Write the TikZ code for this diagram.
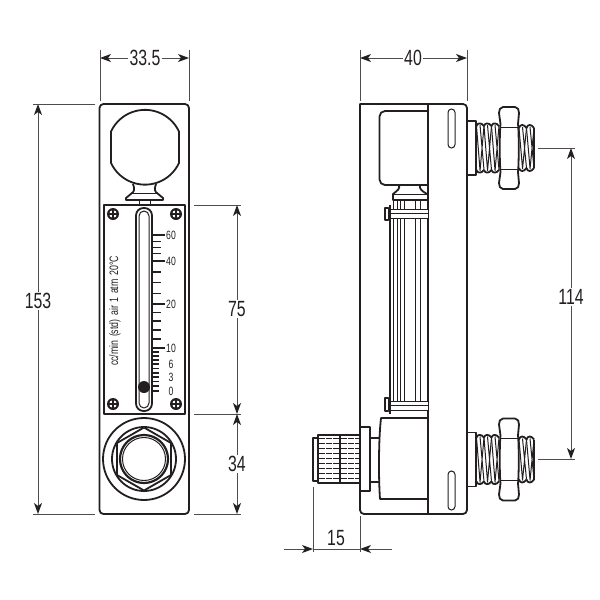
\documentclass[tikz,border=0pt]{standalone}
\usepackage{fontspec}
\usepackage{tikz}
\usetikzlibrary{arrows.meta}
\setmainfont{Liberation Sans}[FakeStretch=0.72]
\definecolor{ink}{HTML}{231F20}
\tikzset{
  fig/.style={draw=ink, line width=1.8pt, line join=round},
  thin/.style={draw=ink, line width=1pt},
  tick/.style={draw=ink, line width=1.3pt},
  ext/.style={draw=ink!80, line width=0.9pt},
  dim/.style={draw=ink!80, line width=1pt, -{Stealth[length=11pt,width=8pt,inset=3pt,color=ink]}},
  lbl/.style={text=ink, font=\fontsize{22}{24}\selectfont, inner sep=1pt},
  scl/.style={text=ink, font=\fontsize{12}{14}\selectfont, inner sep=0pt},
  screw/.pic={
    \fill[ink] (0,0) circle (6);
    \fill[white] (0,0) circle (3.8);
    \draw[ink, line width=1.5pt] (-4,0)--(4,0) (0,-4)--(0,4);
  },
  fitting/.pic={
    % flange
    \draw[fig, fill=white] (468,-27)--(476,-27)--(476,27)--(468,27);
    % thread, both sides of the nut
    \foreach \x in {476.5,484,491.5}{
      \draw[fig] (\x,-22) .. controls (\x+1,-25.5) and (\x+5,-25.5) .. (\x+7.5,-22);
      \draw[fig] (\x,22) .. controls (\x+1,25.5) and (\x+5,25.5) .. (\x+7.5,22);
      \draw[thin] (\x,-22)--(\x+3.5,22) (\x+3.5,-23)--(\x+7.5,22) (\x+7.5,-22)--(\x+3.5,23);
    }
    \foreach \x in {519,526.5}{
      \draw[fig] (\x,-20) .. controls (\x+1,-24) and (\x+5,-24) .. (\x+7.5,-20);
      \draw[fig] (\x,20) .. controls (\x+1,24) and (\x+5,24) .. (\x+7.5,20);
      \draw[thin] (\x,-20)--(\x+3.5,20) (\x+3.5,-21)--(\x+7.5,20) (\x+7.5,-20)--(\x+3.5,21);
    }
    \draw[fig] (534,-20)--(534,20);
    % nut
    \draw[fig, fill=white] (503,-41)--(515,-41) .. controls (518,-41) and (519,-38) .. (519,-35)
      --(518,-24) .. controls (519,-15) and (519,15) .. (518,24)
      --(519,35) .. controls (519,38) and (518,41) .. (515,41)--(503,41)
      .. controls (500,41) and (499,38) .. (499,35)--(500.5,24)
      .. controls (499.5,15) and (499.5,-15) .. (500.5,-24)--(499,-35)
      .. controls (499,-38) and (500,-41) .. (503,-41)--cycle;
    \draw[thin] (500.5,-21)--(518,-21) (500.5,21)--(518,21);
  }
}

\begin{document}
\begin{tikzpicture}[x=1pt,y=-1pt]
\useasboundingbox (0,0) rectangle (600,600);

% front view
\draw[fig, rounded corners=4] (99.5,104) rectangle (189,514);
\draw[fig] (111,131.5) arc[start angle=-155, end angle=-25, radius=37.5]--(179,163)
  arc[start angle=25, end angle=155, radius=37.5]--cycle;
\draw[fig] (133,184) .. controls (135,189) and (134,192) .. (132,193)--(126,198)--(126,200)--(163,200)--(163,198)--(157,193)
  .. controls (155,192) and (154,189) .. (156,184);
\draw[thin] (132,193)--(157,193);
\draw[thin] (139,200)--(139,205) (150,200)--(150,205);
\draw[fig] (104,205) rectangle (185,414);
\draw[fig, rounded corners=7.5] (136,208) rectangle (152,411);
\draw[thin, rounded corners=5] (139,211) rectangle (149,408);
\fill[ink] (144,387) circle (6);
\pic at (113,214) {screw};
\pic at (176,214) {screw};
\pic at (113,404) {screw};
\pic at (176,404) {screw};
% scale
\foreach \y in {235,261,304,348}
  \draw[tick] (152,\y)--(165,\y);
\foreach \y in {241.5,247.5,253.5,272,282.5,293.5,312.5,321,330,339}
  \draw[tick] (152,\y)--(161,\y);
\foreach \y in {352,356,360,364,368.5,373,377,381.5,386,391}
  \draw[tick] (152,\y)--(159,\y);
\foreach \y/\v in {235/60,261/40,304/20,348/10,364/6,377/3,391/0}
  \node[scl] (s\v) at (171,\y) {\v};
\node[scl, rotate=90, font=\fontsize{12.2}{13}\selectfont] (unit) at (115,311) {\spaceskip=3.6pt\relax cc/min (std) air 1 atm 20°C};
% fitting seen end on
\draw[fig] (144,459) circle (41);
\draw[fig] (144,459) circle (32);
\draw[fig] (144,427.5)--(171,443)--(171,475)--(144,490.5)--(117,475)--(117,443)--cycle;
\draw[fig, line width=2.2pt] (144,459) circle (24);
\draw[thin] (144,459) circle (21.5);

% side view
\draw[fig] (360,104) [rounded corners=4] --(467,104)--(467,514)--(360,514) [sharp corners] --cycle;
\draw[fig] (428,104)--(428,514);
\draw[thin, rounded corners=3.5] (448,109) rectangle (455,148);
\draw[thin, rounded corners=3.5] (448,471) rectangle (455,510);
\draw[fig] (428,111) [rounded corners=5.5] --(379.5,111)--(379.5,185)[sharp corners]--(428,185);
\draw[fig] (399,185) .. controls (400,189) and (398,190) .. (393,194)--(393,200)--(428,200);
\draw[fig] (420,185) .. controls (419,189) and (422,191) .. (427,194);
\draw[thin] (393,194)--(428,194);
% glass tube
\foreach \x in {393,397,400,404,415,420,427}
  \draw[thin, line width=0.9pt] (\x,200)--(\x,401);
\draw[fill=white, draw=none] (391,209) rectangle (428,218);
\draw[fill=white, draw=none] (391,401) rectangle (428,410);
\draw[thin] (391,209)--(428,209) (391,213.5)--(428,213.5) (391,218)--(428,218);
\draw[thin] (391,401)--(428,401) (391,405.5)--(428,405.5) (391,410)--(428,410);
\draw[ink, line width=2.5pt] (390,205)--(390,414);
\draw[fig, fill=white] (385,208) rectangle (388.5,220);
\draw[fig, fill=white] (385,398) rectangle (388.5,411);
% lower block
\draw[fig] (428,418)--(381,418) .. controls (378.5,440) and (378.5,478) .. (380,499)--(428,499);
\draw[fig] (378.5,438)--(370,438) (378.5,482)--(370,482);
\draw[fig, fill=white] (360,427)--(370,427)--(370,491)--(360,491)--cycle;
% knurled knob
\foreach \y in {438.5,443.5,...,481}
  \draw[ink, line width=1.4pt] (318,\y)--(340,\y) (340,\y)--(360,\y);
\foreach \x in {325,332,347,354}
  \draw[white, line width=0.8pt] (\x,436)--(\x,482);
\draw[fig] (318,435) rectangle (340,483);
\draw[fig] (340,435) rectangle (360,483);
\draw[fig] (318,438)--(313,438)--(313,481)--(318,481);
% ports on the right
\pic at (0,148) {fitting};
\pic at (0,459.5) {fitting};

% dimensions
\coordinate (w1) at (100,58);
\coordinate (w2) at (189,58);
\node[lbl] (wfront) at (145,58) {33.5};
\draw[dim] (wfront) -- (w1);
\draw[dim] (wfront) -- (w2);
\draw[ext] (100,50)--(100,101) (189,50)--(189,101);

\coordinate (d1) at (360,58);
\coordinate (d2) at (467,58);
\node[lbl] (wside) at (413,58) {40};
\draw[dim] (wside) -- (d1);
\draw[dim] (wside) -- (d2);
\draw[ext] (360,50)--(360,101) (467,50)--(467,101);

\coordinate (h1) at (38,104);
\coordinate (h2) at (38,514);
\node[lbl] (total) at (38,301) {153};
\draw[dim] (total) -- (h1);
\draw[dim] (total) -- (h2);
\draw[ext] (33,104)--(95,104) (33,514)--(95,514);

\coordinate (p1) at (237,205);
\coordinate (p2) at (237,414);
\node[lbl] (plate) at (237,309) {75};
\draw[dim] (plate) -- (p1);
\draw[dim] (plate) -- (p2);
\draw[ext] (194,205)--(241,205) (194,414)--(241,414);

\coordinate (b1) at (237,414);
\coordinate (b2) at (237,514);
\node[lbl] (base) at (237,464) {34};
\draw[dim] (base) -- (b1);
\draw[dim] (base) -- (b2);
\draw[ext] (194,514)--(241,514);

\coordinate (c1) at (571,148);
\coordinate (c2) at (571,459);
\node[lbl] (centres) at (571,297) {114};
\draw[dim] (centres) -- (c1);
\draw[dim] (centres) -- (c2);
\draw[ext] (538,148)--(575,148) (538,459)--(575,459);

\coordinate (k1) at (313,549);
\coordinate (k2) at (360,549);
\coordinate (k3) at (284,549);
\coordinate (k4) at (392,549);
\node[lbl] (knob) at (336,538) {15};
\draw[dim] (k3) -- (k1);
\draw[dim] (k4) -- (k2);
\draw[ext] (k1) -- (k2);
\draw[ext] (313,487)--(313,552) (360,516)--(360,552);
\end{tikzpicture}
\end{document}
